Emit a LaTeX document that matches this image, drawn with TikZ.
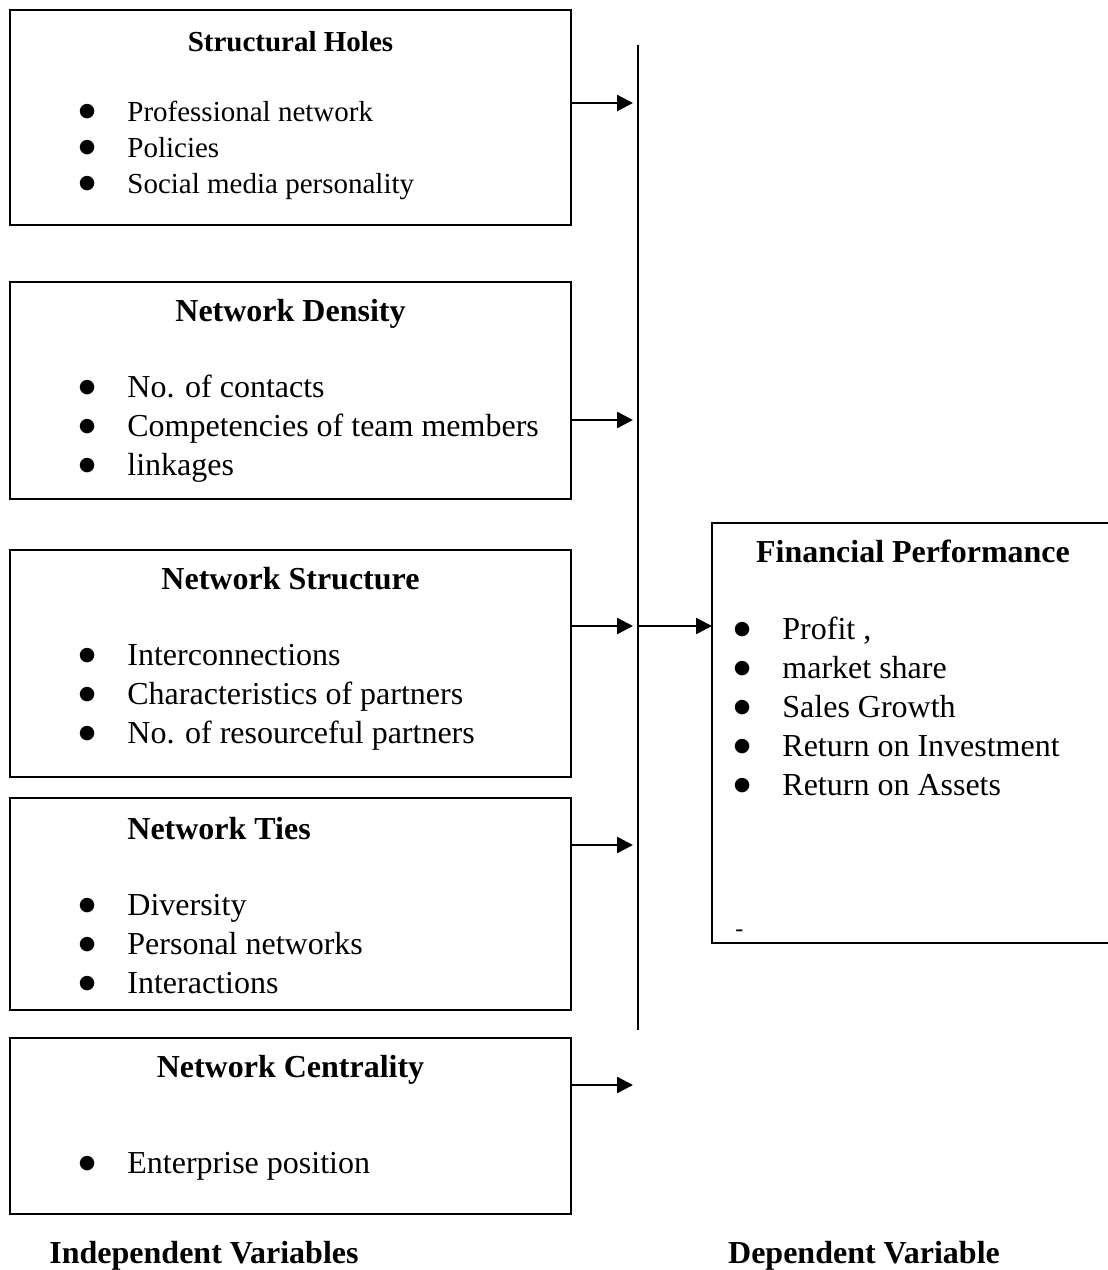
\documentclass[tikz,border=0pt]{standalone}
\usepackage{fontspec}
\setmainfont{Liberation Serif}
\newfontfamily\symfont{DejaVu Sans}
\usetikzlibrary{arrows.meta,positioning}

\newcommand{\bul}{\llap{\raisebox{2.5pt}{\symfont\fontsize{9.5}{9.5}\selectfont\symbol{"25CF}}\hspace{16pt}}}

\tikzset{
  varbox/.style={draw, line width=0.8pt, inner sep=0pt, outer sep=0pt, minimum width=280.5pt},
  boxtitle/.style={font=\fontsize{16}{19.5}\selectfont\bfseries, inner sep=0pt, text height=12pt, text depth=4pt},
  smalltitle/.style={boxtitle, font=\fontsize{14.5}{18}\selectfont\bfseries},
  itemtext/.style={font=\fontsize{16}{19.5}\selectfont, anchor=west, inner sep=0pt, text height=12pt, text depth=4pt},
  smallitem/.style={itemtext, font=\fontsize{14.5}{18}\selectfont},
  flow/.style={line width=1.2pt, -{Triangle[length=8pt,width=8pt]}},
}

\begin{document}
\begin{tikzpicture}[x=0.5pt,y=-0.5pt]
\useasboundingbox (0,0) rectangle (1108,1270);

% structural holes
\node[varbox, minimum height=107.5pt] (holes) at (290.5,117.5) {};
\node[smalltitle] (holes title) at (290.5,43) {Structural Holes};
\node[smallitem] (holes a) at (127,113) {\bul Professional network};
\node[smallitem] (holes b) at (127,149) {\bul Policies};
\node[smallitem] (holes c) at (127,185) {\bul Social media personality};

% network density
\node[varbox, minimum height=108.5pt] (density) at (290.5,390.5) {};
\node[boxtitle] (density title) at (290.5,313) {Network Density};
\node[itemtext] (density a) at (127,389) {\bul No. of contacts};
\node[itemtext] (density b) at (127,428) {\bul Competencies of team members};
\node[itemtext] (density c) at (127,467) {\bul linkages};

% network structure
\node[varbox, minimum height=113.5pt] (struct) at (290.5,663.5) {};
\node[boxtitle] (struct title) at (290.5,581) {Network Structure};
\node[itemtext] (struct a) at (127,657) {\bul Interconnections};
\node[itemtext] (struct b) at (127,696) {\bul Characteristics of partners};
\node[itemtext] (struct c) at (127,735) {\bul No. of resourceful partners};

% network ties
\node[varbox, minimum height=106pt] (ties) at (290.5,904) {};
\node[boxtitle, anchor=west] (ties title) at (127,831) {Network Ties};
\node[itemtext] (ties a) at (127,907) {\bul Diversity};
\node[itemtext] (ties b) at (127,946) {\bul Personal networks};
\node[itemtext] (ties c) at (127,985) {\bul Interactions};

% network centrality
\node[varbox, minimum height=88pt] (central) at (290.5,1126) {};
\node[boxtitle] (central title) at (290.5,1069) {Network Centrality};
\node[itemtext] (central a) at (127,1165) {\bul Enterprise position};

% financial performance (open on the right)
\node[inner sep=0pt, outer sep=0pt, minimum width=198pt, minimum height=210pt] (perf) at (910,733) {};
\draw[line width=0.8pt] (perf.north east) -- (perf.north west) -- (perf.south west) -- (perf.south east);
\node[boxtitle] (perf title) at (913,554) {Financial Performance};
\node[itemtext] (perf a) at (782,631) {\bul Profit ,};
\node[itemtext] (perf b) at (782,670) {\bul market share};
\node[itemtext] (perf c) at (782,709) {\bul Sales Growth};
\node[itemtext] (perf d) at (782,748) {\bul Return on Investment};
\node[itemtext] (perf e) at (782,787) {\bul Return on Assets};
\node[anchor=west, inner sep=0pt, font=\fontsize{12}{14}\selectfont] (perf dash) at (735,933) {-};

% joining line and arrows
\coordinate (line top) at (638,45);
\coordinate (line bottom) at (638,1030);
\draw[line width=0.6pt] (line top) -- (line bottom);
\coordinate (in holes) at (633,103);
\coordinate (in density) at (633,420);
\coordinate (in struct) at (633,626);
\coordinate (in ties) at (633,845);
\coordinate (in central) at (633,1085);
\coordinate (hub) at (638,626);
\draw[flow] (holes.east |- in holes) -- (in holes);
\draw[flow] (density.east |- in density) -- (in density);
\draw[flow] (struct.east |- in struct) -- (in struct);
\draw[flow] (ties.east |- in ties) -- (in ties);
\draw[flow] (central.east |- in central) -- (in central);
\draw[flow] (hub) -- (perf.west |- hub);

\node[boxtitle] (indep) at (204,1255) {Independent Variables};
\node[boxtitle] (dep) at (864,1255) {Dependent Variable};
\end{tikzpicture}
\end{document}
